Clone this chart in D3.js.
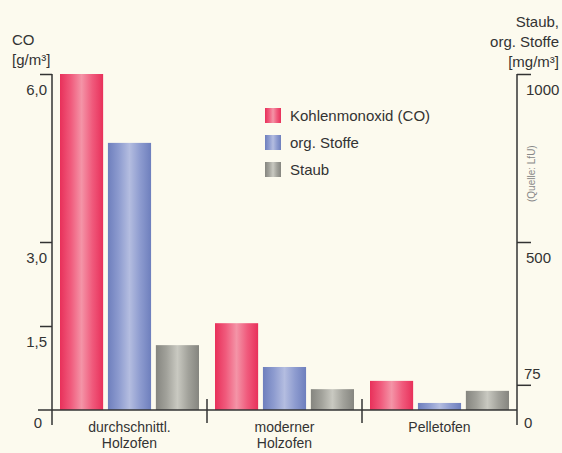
<!DOCTYPE html>
<html>
<head>
<meta charset="utf-8">
<script src="https://cdn.jsdelivr.net/npm/d3@7"></script>
<style>
  body { margin: 0; background: #fcfaee; }
  svg { display: block; font-family: "Liberation Sans", Arial, Helvetica, sans-serif; }
  text { fill: #333; }
</style>
</head>
<body>
<div id="chart"></div>
<script>
// categories (x axis), two text lines each
const categories = [["durchschnittl.", "Holzofen"], ["moderner", "Holzofen"], ["Pelletofen"]];
const seriesNames = ["Kohlenmonoxid (CO)", "org. Stoffe", "Staub"];

// CO in g/m³ (left axis), the others in mg/m³ (right axis)
const coValues = [6.0, 1.55, 0.52];
const orgValues = [795, 128, 21];
const staubValues = [193, 62, 57];

const leftTicks = [0, 1.5, 3, 6];
const rightTicks = [0, 75, 500, 1000];

const width = 562, height = 453;
const svg = d3.select('#chart').append('svg')
  .attr('width', width)
  .attr('height', height);

svg.append('rect').attr('width', width).attr('height', height).attr('fill', '#fcfaee');

// cylinder-like gradients for the bars
const gradients = [
  { id: 'g-red', stops: ['#e8305a', '#f05a7c', '#f494a7', '#f05a7c', '#e8305a'] },
  { id: 'g-blue', stops: ['#6e7fbd', '#8d9bcf', '#b4bde0', '#8d9bcf', '#6e7fbd'] },
  { id: 'g-gray', stops: ['#85857f', '#a2a29b', '#c9c9c1', '#a2a29b', '#85857f'] }
];
const defs = svg.append('defs');
gradients.forEach(g => {
  const lg = defs.append('linearGradient').attr('id', g.id)
    .attr('x1', '0%').attr('x2', '100%').attr('y1', '0%').attr('y2', '0%');
  g.stops.forEach((c, i) => lg.append('stop')
    .attr('offset', (i / (g.stops.length - 1) * 100) + '%')
    .attr('stop-color', c));
});

const baseY = 410, topY = 74;
const leftX = 52, rightX = 517;

const yL = d3.scaleLinear().domain([0, 6]).range([baseY, topY]);
const yR = d3.scaleLinear().domain([0, 1000]).range([baseY, topY]);

const x0 = d3.scaleBand().domain(d3.range(categories.length)).range([leftX, rightX]);
const x1 = d3.scaleBand().domain(d3.range(3))
  .range([8, x0.bandwidth() - 8]).paddingInner(0.1);

// rows: one per category
const rows = categories.map((c, i) => [
  { v: coValues[i], scale: yL, fill: 'url(#g-red)' },
  { v: orgValues[i], scale: yR, fill: 'url(#g-blue)' },
  { v: staubValues[i], scale: yR, fill: 'url(#g-gray)' }
]);

const groups = svg.selectAll('g.cat')
  .data(rows)
  .enter().append('g')
  .attr('class', 'cat')
  .attr('transform', (d, i) => `translate(${x0(i)},0)`);

groups.selectAll('rect')
  .data(d => d)
  .enter().append('rect')
  .attr('x', (d, j) => x1(j))
  .attr('width', x1.bandwidth())
  .attr('y', d => d.scale(d.v))
  .attr('height', d => baseY - d.scale(d.v))
  .attr('fill', d => d.fill);

// baseline
svg.append('line')
  .attr('x1', 38).attr('x2', rightX)
  .attr('y1', baseY).attr('y2', baseY)
  .attr('stroke', '#333').attr('stroke-width', 1.5);

// separators between categories
d3.range(1, categories.length).forEach(i => {
  svg.append('line')
    .attr('x1', x0(i)).attr('x2', x0(i))
    .attr('y1', baseY - 11).attr('y2', baseY + 13)
    .attr('stroke', '#333').attr('stroke-width', 1.5);
});

// left axis
const fmt = d => d === 0 ? '0' : d3.format('.1f')(d).replace('.', ',');
const gL = svg.append('g')
  .attr('transform', `translate(${leftX},0)`)
  .call(d3.axisLeft(yL).tickValues(leftTicks).tickSize(12).tickSizeOuter(0).tickFormat(fmt));
gL.select('.domain').remove();
gL.selectAll('.tick line').attr('stroke', '#333').attr('stroke-width', 1.5)
  .filter(d => d === 0).remove();
gL.selectAll('.tick text')
  .attr('font-size', 15).attr('fill', '#333')
  .attr('x', d => d === 0 ? -10 : -5)
  .attr('dy', d => d === 0 ? 17 : 20);
svg.append('line')
  .attr('x1', leftX).attr('x2', leftX)
  .attr('y1', topY).attr('y2', baseY + 15)
  .attr('stroke', '#333').attr('stroke-width', 1.5);

// right axis
const gR = svg.append('g')
  .attr('transform', `translate(${rightX},0)`)
  .call(d3.axisRight(yR).tickValues(rightTicks).tickSize(14).tickSizeOuter(0)
    .tickFormat(d3.format('d')));
gR.select('.domain').remove();
gR.selectAll('.tick line').attr('stroke', '#333').attr('stroke-width', 1.5)
  .filter(d => d === 0).remove();
gR.selectAll('.tick text')
  .attr('font-size', 15).attr('fill', '#333')
  .attr('x', d => d >= 500 ? 9 : 7)
  .attr('dy', d => d === 0 ? 17 : (d === 75 ? -6 : 20));
svg.append('line')
  .attr('x1', rightX).attr('x2', rightX)
  .attr('y1', topY).attr('y2', baseY + 15)
  .attr('stroke', '#333').attr('stroke-width', 1.5);

// axis titles
svg.append('text').attr('x', 12).attr('y', 45).attr('font-size', 15).text('CO');
svg.append('text').attr('x', 12).attr('y', 65).attr('font-size', 15).text('[g/m³]');
const rTitle = ['Staub,', 'org. Stoffe', '[mg/m³]'];
svg.selectAll('text.rtitle')
  .data(rTitle).enter().append('text')
  .attr('class', 'rtitle')
  .attr('x', 559).attr('y', (d, i) => 27 + i * 20)
  .attr('text-anchor', 'end').attr('font-size', 15)
  .text(d => d);

// source note
svg.append('text')
  .attr('transform', 'translate(535,202) rotate(-90)')
  .attr('font-size', 10).style('fill', '#888')
  .text('(Quelle: LfU)');

// category labels
categories.forEach((lines, i) => {
  const t = svg.append('text')
    .attr('x', x0(i) + x0.bandwidth() / 2)
    .attr('y', 432)
    .attr('text-anchor', 'middle')
    .attr('font-size', 14);
  lines.forEach((l, k) => t.append('tspan')
    .attr('x', x0(i) + x0.bandwidth() / 2)
    .attr('dy', k === 0 ? 0 : 16)
    .text(l));
});

// legend
const legend = svg.append('g').attr('transform', 'translate(265,108)');
const legendFills = ['url(#g-red)', 'url(#g-blue)', 'url(#g-gray)'];
seriesNames.forEach((name, i) => {
  const row = legend.append('g').attr('transform', `translate(0,${i * 27})`);
  row.append('rect').attr('width', 16).attr('height', 15).attr('fill', legendFills[i]);
  row.append('text').attr('x', 25).attr('y', 13).attr('font-size', 15).text(name);
});
</script>
</body>
</html>
